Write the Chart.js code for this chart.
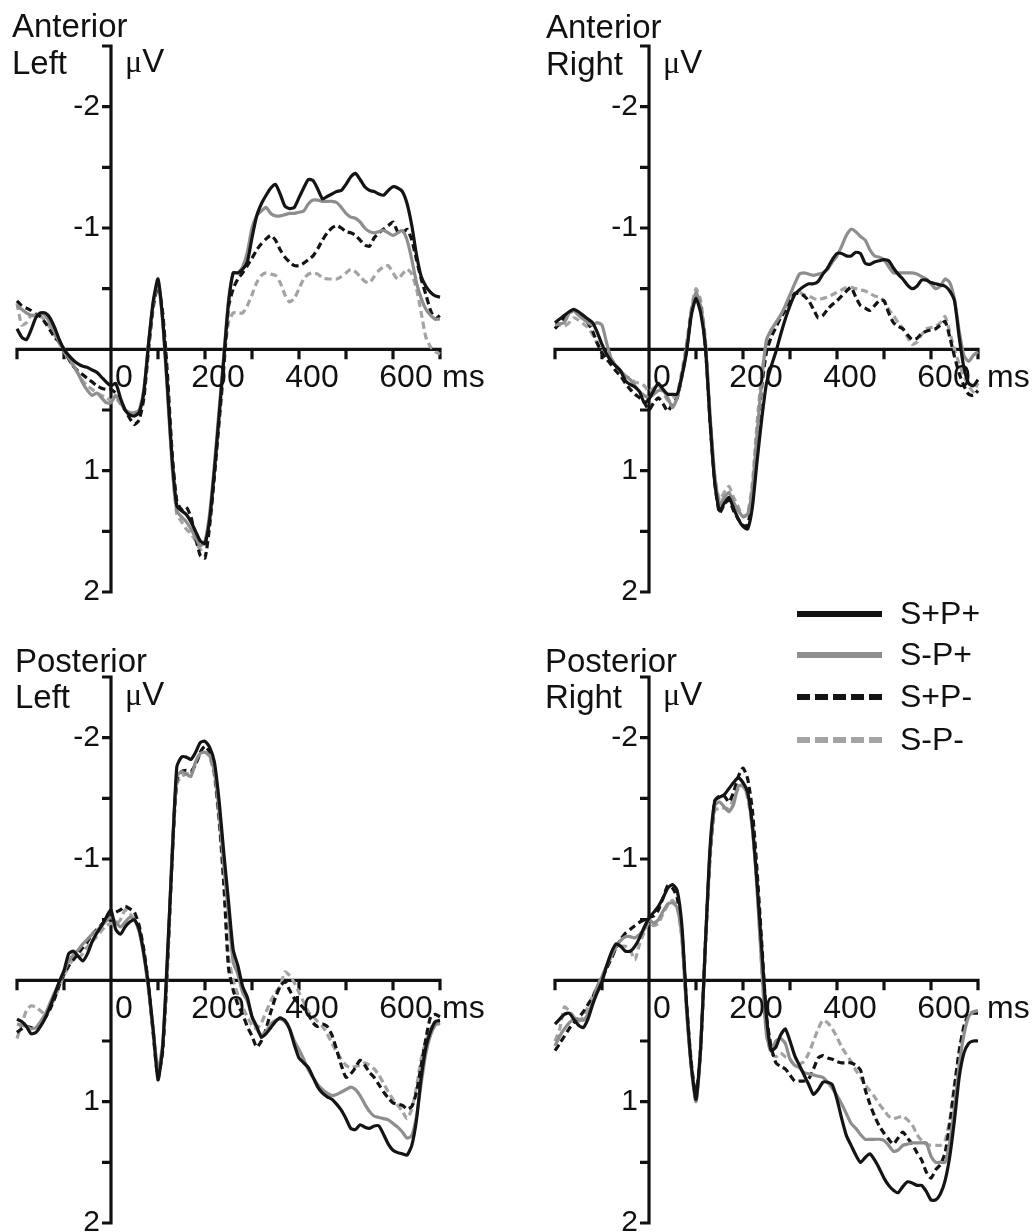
<!DOCTYPE html>
<html>
<head>
<meta charset="utf-8">
<title>ERP waveforms</title>
<script src="https://cdn.jsdelivr.net/npm/chart.js@4.4.1/dist/chart.umd.min.js"></script>
<style>
  html, body { margin: 0; padding: 0; background: #fff; }
  #wrap { position: relative; width: 1035px; height: 1232px; }
  #wrap canvas { position: absolute; left: 0; top: 0; width: 1035px; height: 1232px; }
</style>
</head>
<body>
<div id="wrap">
  <canvas id="antLeft" width="1035" height="1232"></canvas>
  <canvas id="antRight" width="1035" height="1232"></canvas>
  <canvas id="postLeft" width="1035" height="1232"></canvas>
  <canvas id="postRight" width="1035" height="1232"></canvas>
</div>
<script>
// time points (ms) shared by every waveform
const times = [
  -200,-190,-180,-170,-160,-150,-140,-130,-120,-110,
  -100,-90,-80,-70,-60,-50,-40,-30,-20,-10,
  0,10,20,30,40,50,60,70,80,90,
  100,110,120,130,140,150,160,170,180,190,
  200,210,220,230,240,250,260,270,280,290,
  300,310,320,330,340,350,360,370,380,390,
  400,410,420,430,440,450,460,470,480,490,
  500,510,520,530,540,550,560,570,580,590,
  600,610,620,630,640,650,660,670,680,690,
  700
];

const conditions = ['S+P+', 'S-P+', 'S+P-', 'S-P-'];

const xTicks = [-200, -100, 0, 100, 200, 300, 400, 500, 600, 700];
const xTickLabels = [0, 200, 400, 600];
const yTicks = [-2.5, -2, -1.5, -1, -0.5, 0, 0.5, 1, 1.5, 2];
const yTickLabels = [-2, -1, 1, 2];

// Anterior Left (uV)
const AL_SpPp = [
  -0.17,-0.10,-0.08,-0.16,-0.26,-0.30,-0.30,-0.26,-0.18,-0.08,
  0.00,0.05,0.09,0.12,0.14,0.15,0.17,0.19,0.23,0.27,
  0.30,0.28,0.40,0.50,0.54,0.55,0.52,0.35,-0.05,-0.40,
  -0.58,-0.25,0.30,0.90,1.29,1.33,1.36,1.42,1.50,1.58,
  1.60,1.40,1.00,0.55,0.08,-0.38,-0.63,-0.63,-0.66,-0.72,
  -0.92,-1.10,-1.20,-1.27,-1.33,-1.36,-1.28,-1.18,-1.16,-1.17,
  -1.25,-1.33,-1.40,-1.39,-1.32,-1.24,-1.26,-1.28,-1.30,-1.31,
  -1.36,-1.42,-1.45,-1.40,-1.34,-1.31,-1.30,-1.28,-1.27,-1.31,
  -1.34,-1.33,-1.30,-1.20,-1.02,-0.78,-0.60,-0.52,-0.47,-0.44,
  -0.43
];
const AL_SmPp = [
  -0.36,-0.33,-0.30,-0.28,-0.28,-0.30,-0.28,-0.22,-0.14,-0.06,
  0.00,0.07,0.13,0.20,0.28,0.34,0.38,0.36,0.40,0.44,
  0.44,0.38,0.44,0.50,0.52,0.52,0.50,0.33,-0.05,-0.38,
  -0.55,-0.22,0.35,0.95,1.33,1.38,1.42,1.48,1.55,1.62,
  1.58,1.35,0.95,0.50,0.05,-0.40,-0.63,-0.63,-0.68,-0.80,
  -1.00,-1.10,-1.14,-1.17,-1.12,-1.10,-1.10,-1.11,-1.12,-1.12,
  -1.13,-1.14,-1.20,-1.23,-1.23,-1.22,-1.22,-1.22,-1.21,-1.17,
  -1.12,-1.09,-1.08,-1.05,-1.00,-0.97,-0.96,-0.97,-0.98,-0.96,
  -0.94,-0.96,-0.98,-0.90,-0.74,-0.55,-0.42,-0.33,-0.28,-0.25,
  -0.25
];
const AL_SpPm = [
  -0.40,-0.36,-0.34,-0.32,-0.29,-0.27,-0.22,-0.16,-0.10,-0.06,
  0.00,0.08,0.14,0.18,0.21,0.24,0.27,0.30,0.32,0.33,
  0.33,0.36,0.42,0.50,0.57,0.62,0.58,0.40,0.00,-0.35,
  -0.52,-0.30,0.20,0.85,1.25,1.32,1.30,1.38,1.55,1.70,
  1.72,1.45,1.05,0.60,0.15,-0.35,-0.50,-0.58,-0.63,-0.69,
  -0.75,-0.82,-0.87,-0.91,-0.94,-0.90,-0.82,-0.76,-0.72,-0.69,
  -0.69,-0.71,-0.74,-0.77,-0.83,-0.90,-0.96,-1.00,-1.02,-1.00,
  -0.97,-0.96,-0.94,-0.90,-0.86,-0.85,-0.92,-0.96,-0.99,-1.02,
  -1.05,-0.97,-0.96,-0.99,-0.90,-0.74,-0.58,-0.45,-0.32,-0.25,
  -0.28
];
const AL_SmPm = [
  -0.38,-0.20,-0.22,-0.28,-0.28,-0.27,-0.24,-0.18,-0.12,-0.05,
  0.02,0.08,0.14,0.20,0.26,0.30,0.33,0.36,0.38,0.40,
  0.42,0.40,0.45,0.50,0.52,0.53,0.50,0.33,-0.05,-0.38,
  -0.55,-0.25,0.30,0.95,1.36,1.42,1.48,1.52,1.58,1.65,
  1.62,1.40,1.00,0.55,0.10,-0.22,-0.30,-0.30,-0.30,-0.36,
  -0.45,-0.55,-0.61,-0.63,-0.62,-0.61,-0.55,-0.45,-0.39,-0.42,
  -0.50,-0.58,-0.62,-0.63,-0.62,-0.59,-0.58,-0.58,-0.58,-0.60,
  -0.63,-0.66,-0.64,-0.60,-0.56,-0.55,-0.60,-0.65,-0.68,-0.69,
  -0.63,-0.58,-0.62,-0.66,-0.62,-0.50,-0.30,-0.10,-0.02,0.02,
  0.04
];

// Anterior Right
const AR_SpPp = [
  -0.22,-0.25,-0.28,-0.31,-0.33,-0.31,-0.28,-0.25,-0.22,-0.14,
  -0.04,0.04,0.10,0.14,0.18,0.26,0.29,0.31,0.35,0.44,
  0.41,0.34,0.28,0.33,0.37,0.37,0.37,0.22,0.02,-0.28,
  -0.42,-0.30,-0.02,0.60,1.10,1.33,1.27,1.22,1.31,1.40,
  1.46,1.48,1.30,0.92,0.57,0.28,0.14,0.02,-0.12,-0.25,
  -0.36,-0.45,-0.49,-0.52,-0.54,-0.54,-0.56,-0.62,-0.67,-0.74,
  -0.79,-0.79,-0.77,-0.77,-0.80,-0.79,-0.71,-0.70,-0.72,-0.73,
  -0.74,-0.73,-0.67,-0.62,-0.58,-0.53,-0.50,-0.52,-0.57,-0.57,
  -0.55,-0.54,-0.53,-0.52,-0.48,-0.40,-0.10,0.15,0.28,0.30,
  0.25
];
const AR_SmPp = [
  -0.20,-0.21,-0.22,-0.30,-0.32,-0.28,-0.25,-0.22,-0.20,-0.22,
  -0.20,-0.05,0.08,0.14,0.18,0.22,0.25,0.30,0.35,0.38,
  0.40,0.37,0.34,0.34,0.40,0.48,0.40,0.22,0.00,-0.30,
  -0.47,-0.35,-0.05,0.55,1.05,1.28,1.22,1.18,1.26,1.33,
  1.38,1.36,1.15,0.70,0.25,-0.08,-0.16,-0.22,-0.28,-0.36,
  -0.45,-0.54,-0.62,-0.63,-0.62,-0.61,-0.62,-0.63,-0.66,-0.72,
  -0.77,-0.85,-0.94,-0.99,-0.97,-0.93,-0.90,-0.82,-0.77,-0.76,
  -0.74,-0.68,-0.63,-0.63,-0.63,-0.63,-0.63,-0.62,-0.60,-0.58,
  -0.54,-0.50,-0.52,-0.58,-0.55,-0.41,-0.15,0.05,0.10,0.05,
  0.02
];
const AR_SpPm = [
  -0.17,-0.22,-0.26,-0.30,-0.32,-0.30,-0.27,-0.22,-0.15,-0.05,
  0.03,0.08,0.13,0.18,0.22,0.28,0.33,0.37,0.40,0.44,
  0.50,0.44,0.40,0.45,0.51,0.45,0.40,0.22,0.00,-0.30,
  -0.45,-0.35,-0.02,0.60,1.10,1.35,1.28,1.24,1.33,1.40,
  1.45,1.45,1.20,0.75,0.30,0.02,-0.10,-0.18,-0.26,-0.32,
  -0.40,-0.46,-0.46,-0.44,-0.40,-0.33,-0.26,-0.28,-0.33,-0.37,
  -0.40,-0.44,-0.48,-0.51,-0.43,-0.36,-0.34,-0.32,-0.36,-0.40,
  -0.40,-0.30,-0.22,-0.19,-0.17,-0.12,-0.08,-0.09,-0.13,-0.15,
  -0.16,-0.17,-0.20,-0.23,-0.10,0.06,0.20,0.30,0.37,0.38,
  0.34
];
const AR_SmPm = [
  -0.18,-0.20,-0.19,-0.22,-0.26,-0.24,-0.21,-0.18,-0.12,-0.05,
  0.00,0.04,0.08,0.13,0.18,0.22,0.24,0.27,0.28,0.30,
  0.35,0.32,0.30,0.35,0.42,0.40,0.36,0.18,-0.05,-0.33,
  -0.50,-0.40,-0.08,0.55,1.05,1.24,1.18,1.13,1.22,1.30,
  1.38,1.35,1.10,0.60,0.20,-0.05,-0.16,-0.22,-0.28,-0.34,
  -0.40,-0.46,-0.47,-0.45,-0.44,-0.42,-0.41,-0.42,-0.43,-0.45,
  -0.47,-0.49,-0.51,-0.51,-0.50,-0.49,-0.48,-0.46,-0.44,-0.43,
  -0.40,-0.33,-0.28,-0.22,-0.17,-0.10,-0.04,-0.06,-0.12,-0.17,
  -0.18,-0.19,-0.22,-0.27,-0.14,0.00,0.12,0.22,0.30,0.35,
  0.28
];

// Posterior Left
const PL_SpPp = [
  0.32,0.34,0.38,0.44,0.43,0.38,0.31,0.22,0.12,0.01,
  -0.08,-0.22,-0.24,-0.20,-0.16,-0.22,-0.32,-0.39,-0.45,-0.52,
  -0.58,-0.42,-0.38,-0.44,-0.48,-0.50,-0.42,-0.22,0.05,0.42,
  0.82,0.55,-0.20,-1.00,-1.76,-1.84,-1.84,-1.82,-1.88,-1.96,
  -1.97,-1.92,-1.80,-1.48,-1.05,-0.65,-0.25,-0.12,0.05,0.14,
  0.30,0.38,0.47,0.44,0.39,0.34,0.31,0.33,0.40,0.53,
  0.64,0.68,0.72,0.80,0.88,0.93,0.96,0.98,1.02,1.07,
  1.14,1.22,1.23,1.19,1.21,1.22,1.20,1.20,1.27,1.35,
  1.40,1.42,1.43,1.44,1.36,1.15,0.80,0.55,0.42,0.34,
  0.33
];
const PL_SmPp = [
  0.36,0.37,0.38,0.40,0.39,0.34,0.28,0.19,0.10,0.02,
  -0.07,-0.16,-0.21,-0.25,-0.30,-0.34,-0.38,-0.41,-0.45,-0.49,
  -0.52,-0.48,-0.44,-0.48,-0.52,-0.50,-0.40,-0.20,0.08,0.42,
  0.74,0.52,-0.15,-1.05,-1.68,-1.72,-1.70,-1.68,-1.80,-1.87,
  -1.88,-1.85,-1.72,-1.40,-0.95,-0.55,-0.15,-0.05,0.10,0.17,
  0.30,0.40,0.45,0.42,0.36,0.33,0.32,0.34,0.40,0.50,
  0.57,0.65,0.74,0.80,0.86,0.90,0.93,0.95,0.94,0.92,
  0.90,0.88,0.90,0.95,1.02,1.08,1.12,1.13,1.14,1.15,
  1.18,1.21,1.25,1.30,1.28,1.12,0.85,0.60,0.45,0.37,
  0.35
];
const PL_SpPm = [
  0.43,0.40,0.38,0.39,0.40,0.36,0.31,0.24,0.15,0.04,
  -0.05,-0.12,-0.17,-0.22,-0.27,-0.32,-0.38,-0.42,-0.46,-0.50,
  -0.53,-0.56,-0.58,-0.61,-0.59,-0.56,-0.45,-0.25,0.05,0.45,
  0.80,0.58,-0.10,-1.00,-1.65,-1.72,-1.73,-1.72,-1.78,-1.88,
  -1.93,-1.88,-1.72,-1.35,-0.80,-0.10,0.08,0.20,0.28,0.38,
  0.46,0.55,0.50,0.40,0.26,0.14,0.05,0.01,0.08,0.15,
  0.19,0.23,0.28,0.35,0.38,0.36,0.38,0.45,0.57,0.70,
  0.80,0.77,0.72,0.66,0.70,0.76,0.80,0.86,0.92,0.97,
  1.01,1.02,1.03,1.06,1.04,0.92,0.70,0.48,0.30,0.28,
  0.30
];
const PL_SmPm = [
  0.48,0.36,0.25,0.21,0.22,0.25,0.28,0.22,0.15,0.05,
  -0.04,-0.11,-0.18,-0.18,-0.22,-0.28,-0.32,-0.36,-0.41,-0.45,
  -0.47,-0.46,-0.50,-0.58,-0.55,-0.50,-0.40,-0.22,0.08,0.42,
  0.76,0.55,-0.10,-1.05,-1.62,-1.68,-1.70,-1.71,-1.78,-1.86,
  -1.88,-1.84,-1.68,-1.30,-0.80,-0.20,0.00,0.12,0.22,0.30,
  0.37,0.40,0.35,0.26,0.17,0.10,0.05,-0.07,-0.04,0.02,
  0.10,0.18,0.26,0.30,0.34,0.38,0.44,0.52,0.59,0.65,
  0.70,0.72,0.71,0.70,0.68,0.70,0.73,0.78,0.85,0.92,
  0.98,1.03,1.08,1.14,1.06,0.88,0.65,0.50,0.40,0.36,
  0.36
];

// Posterior Right
const PR_SpPp = [
  0.36,0.32,0.28,0.27,0.32,0.37,0.39,0.32,0.20,0.10,
  0.01,-0.12,-0.23,-0.30,-0.28,-0.24,-0.24,-0.28,-0.35,-0.44,
  -0.51,-0.56,-0.61,-0.68,-0.76,-0.79,-0.74,-0.45,0.20,0.70,
  0.98,0.55,-0.30,-1.10,-1.48,-1.51,-1.53,-1.58,-1.63,-1.67,
  -1.63,-1.55,-1.28,-0.80,-0.25,0.30,0.58,0.55,0.45,0.40,
  0.50,0.62,0.70,0.78,0.86,0.94,0.90,0.84,0.84,0.86,
  0.98,1.14,1.28,1.36,1.44,1.50,1.46,1.43,1.48,1.55,
  1.63,1.69,1.73,1.75,1.70,1.66,1.67,1.69,1.69,1.74,
  1.81,1.81,1.76,1.65,1.45,1.15,0.80,0.60,0.52,0.50,
  0.50
];
const PR_SmPp = [
  0.54,0.46,0.40,0.35,0.32,0.32,0.33,0.28,0.18,0.05,
  -0.03,-0.12,-0.20,-0.28,-0.33,-0.36,-0.36,-0.35,-0.38,-0.42,
  -0.50,-0.47,-0.50,-0.57,-0.63,-0.64,-0.60,-0.35,0.25,0.72,
  1.00,0.55,-0.30,-1.05,-1.44,-1.47,-1.43,-1.39,-1.45,-1.60,
  -1.60,-1.53,-1.25,-0.75,-0.10,0.45,0.58,0.50,0.48,0.52,
  0.65,0.70,0.72,0.76,0.77,0.78,0.79,0.80,0.84,0.89,
  0.95,1.02,1.10,1.18,1.22,1.27,1.31,1.31,1.31,1.31,
  1.32,1.36,1.41,1.40,1.36,1.35,1.34,1.34,1.34,1.34,
  1.45,1.50,1.50,1.50,1.33,1.05,0.70,0.45,0.30,0.26,
  0.25
];
const PR_SpPm = [
  0.58,0.52,0.46,0.40,0.35,0.31,0.26,0.20,0.14,0.06,
  -0.02,-0.10,-0.18,-0.27,-0.34,-0.39,-0.42,-0.45,-0.48,-0.50,
  -0.52,-0.53,-0.58,-0.68,-0.78,-0.76,-0.68,-0.40,0.20,0.68,
  0.95,0.55,-0.30,-1.05,-1.48,-1.52,-1.52,-1.47,-1.55,-1.68,
  -1.75,-1.66,-1.40,-0.90,-0.30,0.30,0.55,0.68,0.71,0.73,
  0.78,0.83,0.83,0.83,0.81,0.73,0.64,0.62,0.64,0.65,
  0.67,0.68,0.68,0.68,0.70,0.74,0.90,1.02,1.12,1.20,
  1.26,1.31,1.35,1.30,1.25,1.30,1.35,1.42,1.48,1.58,
  1.63,1.56,1.52,1.42,1.18,0.88,0.58,0.38,0.28,0.27,
  0.27
];
const PR_SmPm = [
  0.50,0.40,0.22,0.25,0.30,0.34,0.30,0.22,0.13,0.05,
  -0.03,-0.12,-0.20,-0.26,-0.28,-0.28,-0.25,-0.17,-0.30,-0.40,
  -0.48,-0.45,-0.47,-0.55,-0.62,-0.66,-0.60,-0.35,0.25,0.72,
  1.00,0.55,-0.30,-1.00,-1.40,-1.42,-1.42,-1.42,-1.50,-1.58,
  -1.62,-1.50,-1.25,-0.75,-0.10,0.45,0.60,0.63,0.60,0.63,
  0.65,0.70,0.69,0.67,0.60,0.50,0.40,0.33,0.35,0.40,
  0.47,0.55,0.61,0.67,0.74,0.80,0.86,0.91,0.96,1.02,
  1.07,1.12,1.14,1.13,1.12,1.15,1.19,1.27,1.32,1.35,
  1.36,1.36,1.36,1.32,1.15,0.85,0.60,0.40,0.28,0.26,
  0.25
];

// line styles per condition
const lineColors = ['#141414', '#8e8e8e', '#141414', '#a3a3a3'];
const lineDashes = [[], [], [7, 4], [7, 4]];

const FONT = "'Liberation Sans', Arial, sans-serif";
const SERIF = "'Liberation Serif', 'Times New Roman', serif";

const erpAxes = {
  id: 'erpAxes',
  beforeDatasetsDraw(chart, args, opts) {
    const { ctx, scales: { x, y } } = chart;
    const x0 = x.getPixelForValue(0), y0 = y.getPixelForValue(0);
    const xl = x.getPixelForValue(xTicks[0]), xr = x.getPixelForValue(xTicks[xTicks.length - 1]);
    const yt = y.getPixelForValue(yTicks[0]), yb = y.getPixelForValue(yTicks[yTicks.length - 1]);
    ctx.save();
    ctx.strokeStyle = '#111';
    ctx.lineWidth = 3.2;
    ctx.lineJoin = 'miter';
    // x axis with end ticks
    ctx.beginPath();
    ctx.moveTo(xl, y0 + 10); ctx.lineTo(xl, y0); ctx.lineTo(xr, y0); ctx.lineTo(xr, y0 + 10);
    ctx.stroke();
    // y axis with end ticks
    ctx.beginPath();
    ctx.moveTo(x0 - 9, yt); ctx.lineTo(x0, yt); ctx.lineTo(x0, yb); ctx.lineTo(x0 - 9, yb);
    ctx.stroke();
    ctx.beginPath();
    xTicks.slice(1, -1).forEach(t => {
      if (t === 0) return;
      const px = x.getPixelForValue(t);
      ctx.moveTo(px, y0); ctx.lineTo(px, y0 + 10);
    });
    yTicks.slice(1, -1).forEach(v => {
      if (v === 0) return;
      const py = y.getPixelForValue(v);
      ctx.moveTo(x0 - 9, py); ctx.lineTo(x0, py);
    });
    ctx.stroke();
    ctx.restore();
  },
  afterDatasetsDraw(chart, args, opts) {
    const { ctx, scales: { x, y } } = chart;
    const x0 = x.getPixelForValue(0), y0 = y.getPixelForValue(0);
    ctx.save();
    ctx.fillStyle = '#111';

    // x tick labels
    ctx.font = '32px ' + FONT;
    ctx.textAlign = 'center';
    ctx.textBaseline = 'alphabetic';
    xTickLabels.forEach(t => ctx.fillText(String(t), x.getPixelForValue(t) + 13, y0 + 38));
    ctx.textAlign = 'left';
    ctx.fillText('ms', x.getPixelForValue(700) + opts.msGap, y0 + 38);

    // y tick labels
    ctx.font = '30px ' + FONT;
    ctx.textAlign = 'right';
    ctx.textBaseline = 'middle';
    yTickLabels.forEach(v => ctx.fillText(String(v), x0 - 11, y.getPixelForValue(v)));

    // panel title
    ctx.font = '33px ' + FONT;
    ctx.textAlign = 'left';
    ctx.textBaseline = 'alphabetic';
    opts.title.forEach((line, i) => ctx.fillText(line, opts.titleX, opts.titleY[i]));

    // unit
    ctx.font = '32px ' + SERIF;
    ctx.fillText('\u03bc', x0 + 14, opts.unitY);
    const muW = ctx.measureText('\u03bc').width;
    ctx.font = '33px ' + FONT;
    ctx.fillText('V', x0 + 14 + muW, opts.unitY);

    // legend
    if (opts.legend) {
      const L = opts.legend;
      chart.data.datasets.forEach((ds, i) => {
        const ly = L.rows[i];
        ctx.save();
        ctx.strokeStyle = ds.borderColor;
        ctx.lineWidth = 6;
        ctx.setLineDash(ds.borderDash.length ? [13, 5] : []);
        ctx.beginPath();
        ctx.moveTo(L.x1, ly); ctx.lineTo(L.x2, ly);
        ctx.stroke();
        ctx.restore();
        ctx.font = '32px ' + FONT;
        ctx.textBaseline = 'middle';
        ctx.fillText(ds.label, L.textX, ly + 1);
      });
    }
    ctx.restore();
  }
};

function makePanel(id, series, pad, opts) {
  const datasets = series.map((vals, i) => ({
    label: conditions[i],
    data: times.map((t, k) => ({ x: t, y: vals[k] })),
    borderColor: lineColors[i],
    borderWidth: 3.2,
    borderDash: lineDashes[i],
    pointRadius: 0,
    tension: 0.2,
    fill: false,
    clip: false
  }));
  new Chart(document.getElementById(id).getContext('2d'), {
    type: 'line',
    data: { datasets },
    options: {
      responsive: false,
      animation: false,
      events: [],
      devicePixelRatio: 1,
      layout: { padding: pad },
      scales: {
        x: { type: 'linear', min: -200, max: 700, display: false },
        y: { type: 'linear', min: -2.5, max: 2, reverse: true, display: false }
      },
      plugins: {
        legend: { display: false },
        tooltip: { enabled: false },
        erpAxes: opts
      }
    },
    plugins: [erpAxes]
  });
}

makePanel('antLeft', [AL_SpPp, AL_SmPp, AL_SpPm, AL_SmPm],
  { left: 17, right: 595, top: 46, bottom: 640 },
  { title: ['Anterior', 'Left'], titleX: 12, titleY: [37, 74], unitY: 72, msGap: 2 });

makePanel('antRight', [AR_SpPp, AR_SmPp, AR_SpPm, AR_SmPm],
  { left: 555, right: 57, top: 46, bottom: 640 },
  { title: ['Anterior', 'Right'], titleX: 546, titleY: [38, 75], unitY: 73, msGap: 9,
    legend: { x1: 797, x2: 882, textX: 900, rows: [614, 655, 697, 740] } });

makePanel('postLeft', [PL_SpPp, PL_SmPp, PL_SpPm, PL_SmPm],
  { left: 17, right: 595, top: 677, bottom: 9 },
  { title: ['Posterior', 'Left'], titleX: 15, titleY: [672, 708], unitY: 705, msGap: 2 });

makePanel('postRight', [PR_SpPp, PR_SmPp, PR_SpPm, PR_SmPm],
  { left: 555, right: 57, top: 677, bottom: 9 },
  { title: ['Posterior', 'Right'], titleX: 545, titleY: [672, 708], unitY: 705, msGap: 9 });
</script>
</body>
</html>
